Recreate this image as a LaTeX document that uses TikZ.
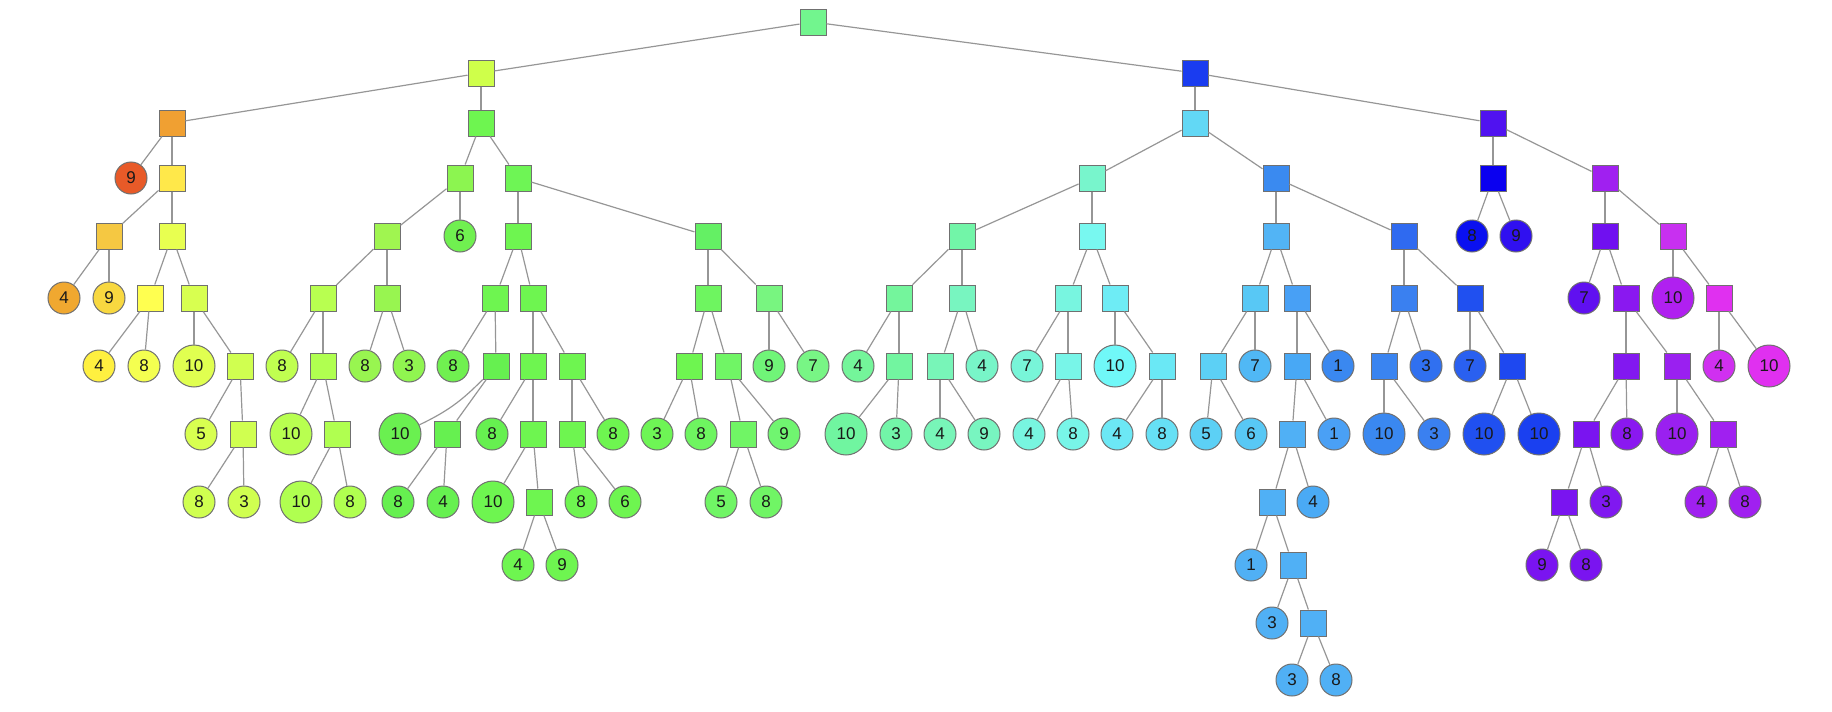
\documentclass[tikz,border=0pt]{standalone}
\usepackage{fontspec}
\setmainfont{Liberation Sans}
\tikzset{
 base/.style={draw={rgb,255:red,112;green,112;blue,112}, line width=1pt, inner sep=0pt, text={rgb,255:red,25;green,25;blue,25}, font=\fontsize{17}{20}\selectfont},
 sq/.style={base, rectangle, minimum size=26pt},
 ci/.style={base, circle, minimum size=32pt},
 cb/.style={base, circle, minimum size=42pt},
 fc/.code={\definecolor{tmpfill}{HTML}{#1}\pgfkeysalso{fill=tmpfill}},
 edge/.style={draw={rgb,255:red,150;green,150;blue,150}, line width=1.2pt}
}
\newcommand\Nd[6]{\node[#1,fc=#5] (L#2x#3) at (#3,#4) {#6};}
\newcommand\Ed[2]{\foreach \ch in {#2} {\draw[edge] (#1) -- (\ch);}}
\begin{document}
\begin{tikzpicture}[x=1pt,y=-1pt]
\useasboundingbox (0,0) rectangle (1832,712);
% level 0
\Nd{sq}{0}{813}{22}{72F58E}{}
% level 1
\Nd{sq}{1}{481}{73}{CFFF4A}{}
\Nd{sq}{1}{1195}{73}{1A3CF0}{}
% level 2
\Nd{sq}{2}{172}{123}{F0A032}{}
\Nd{sq}{2}{481}{123}{6EF550}{}
\Nd{sq}{2}{1195}{123}{62D8F5}{}
\Nd{sq}{2}{1493}{123}{5012F0}{}
% level 3
\Nd{ci}{3}{131}{178}{E85A28}{9}
\Nd{sq}{3}{172}{178}{FFE84A}{}
\Nd{sq}{3}{460}{178}{8CF550}{}
\Nd{sq}{3}{518}{178}{6EF555}{}
\Nd{sq}{3}{1092}{178}{78F5CC}{}
\Nd{sq}{3}{1276}{178}{3A8AF0}{}
\Nd{sq}{3}{1493}{178}{0A00F0}{}
\Nd{sq}{3}{1605}{178}{A020F0}{}
% level 4
\Nd{sq}{4}{109}{236}{F5C842}{}
\Nd{sq}{4}{172}{236}{E8FF50}{}
\Nd{sq}{4}{387}{236}{A0F550}{}
\Nd{ci}{4}{460}{236}{70F050}{6}
\Nd{sq}{4}{518}{236}{6EF550}{}
\Nd{sq}{4}{708}{236}{64F064}{}
\Nd{sq}{4}{962}{236}{72F5A8}{}
\Nd{sq}{4}{1092}{236}{78F8F0}{}
\Nd{sq}{4}{1276}{236}{52B4F5}{}
\Nd{sq}{4}{1404}{236}{2F6AF0}{}
\Nd{ci}{4}{1472}{236}{0A10F0}{8}
\Nd{ci}{4}{1516}{236}{3010F0}{9}
\Nd{sq}{4}{1605}{236}{7010F0}{}
\Nd{sq}{4}{1673}{236}{C830F0}{}
% level 5
\Nd{ci}{5}{64}{298}{F0A830}{4}
\Nd{ci}{5}{109}{298}{F8D840}{9}
\Nd{sq}{5}{150}{298}{FFFF50}{}
\Nd{sq}{5}{194}{298}{D8FF50}{}
\Nd{sq}{5}{323}{298}{B8FF50}{}
\Nd{sq}{5}{387}{298}{98F550}{}
\Nd{sq}{5}{495}{298}{6EF550}{}
\Nd{sq}{5}{533}{298}{6EF550}{}
\Nd{sq}{5}{708}{298}{6EF560}{}
\Nd{sq}{5}{769}{298}{78F580}{}
\Nd{sq}{5}{899}{298}{74F59C}{}
\Nd{sq}{5}{962}{298}{78F5C0}{}
\Nd{sq}{5}{1068}{298}{78F5E0}{}
\Nd{sq}{5}{1115}{298}{6EECF5}{}
\Nd{sq}{5}{1255}{298}{58C8F5}{}
\Nd{sq}{5}{1297}{298}{48A0F5}{}
\Nd{sq}{5}{1404}{298}{3A80F0}{}
\Nd{sq}{5}{1470}{298}{2050F0}{}
\Nd{ci}{5}{1584}{298}{6010F0}{7}
\Nd{sq}{5}{1626}{298}{8A18F0}{}
\Nd{cb}{5}{1673}{298}{B020F0}{10}
\Nd{sq}{5}{1719}{298}{E030F0}{}
% level 6
\Nd{ci}{6}{99}{366}{FFF040}{4}
\Nd{ci}{6}{144}{366}{F4FF50}{8}
\Nd{cb}{6}{194}{366}{E0FF50}{10}
\Nd{sq}{6}{240}{366}{D0FF50}{}
\Nd{ci}{6}{282}{366}{C0FF50}{8}
\Nd{sq}{6}{323}{366}{B0FF50}{}
\Nd{ci}{6}{365}{366}{98F550}{8}
\Nd{ci}{6}{409}{366}{90F550}{3}
\Nd{ci}{6}{453}{366}{70F050}{8}
\Nd{sq}{6}{496}{366}{66F050}{}
\Nd{sq}{6}{533}{366}{6EF550}{}
\Nd{sq}{6}{572}{366}{6EF550}{}
\Nd{sq}{6}{689}{366}{6EF550}{}
\Nd{sq}{6}{728}{366}{70F565}{}
\Nd{ci}{6}{769}{366}{70F578}{9}
\Nd{ci}{6}{813}{366}{78F585}{7}
\Nd{ci}{6}{858}{366}{74F59A}{4}
\Nd{sq}{6}{899}{366}{72F5A0}{}
\Nd{sq}{6}{940}{366}{78F5B8}{}
\Nd{ci}{6}{982}{366}{78F5C8}{4}
\Nd{ci}{6}{1027}{366}{78F5D8}{7}
\Nd{sq}{6}{1068}{366}{78F5E8}{}
\Nd{cb}{6}{1115}{366}{70F8F8}{10}
\Nd{sq}{6}{1162}{366}{6AE8F5}{}
\Nd{sq}{6}{1213}{366}{5CD0F5}{}
\Nd{ci}{6}{1255}{366}{50B8F5}{7}
\Nd{sq}{6}{1297}{366}{48A8F5}{}
\Nd{ci}{6}{1338}{366}{3A88F0}{1}
\Nd{sq}{6}{1384}{366}{3A84F0}{}
\Nd{ci}{6}{1426}{366}{3070F0}{3}
\Nd{ci}{6}{1470}{366}{2A60F0}{7}
\Nd{sq}{6}{1512}{366}{1E48F0}{}
\Nd{sq}{6}{1626}{366}{8218F0}{}
\Nd{sq}{6}{1677}{366}{9A20F0}{}
\Nd{ci}{6}{1719}{366}{D030F0}{4}
\Nd{cb}{6}{1769}{366}{E030F0}{10}
% level 7
\Nd{ci}{7}{201}{434}{D8FF50}{5}
\Nd{sq}{7}{243}{434}{D0FF50}{}
\Nd{cb}{7}{291}{434}{B8FF50}{10}
\Nd{sq}{7}{337}{434}{B0FF50}{}
\Nd{cb}{7}{400}{434}{6AF050}{10}
\Nd{sq}{7}{447}{434}{66F050}{}
\Nd{ci}{7}{492}{434}{66F050}{8}
\Nd{sq}{7}{533}{434}{6EF550}{}
\Nd{sq}{7}{572}{434}{6EF550}{}
\Nd{ci}{7}{613}{434}{6EF550}{8}
\Nd{ci}{7}{657}{434}{6EF555}{3}
\Nd{ci}{7}{701}{434}{6EF560}{8}
\Nd{sq}{7}{743}{434}{70F565}{}
\Nd{ci}{7}{784}{434}{70F570}{9}
\Nd{cb}{7}{846}{434}{70F5A0}{10}
\Nd{ci}{7}{896}{434}{72F5A8}{3}
\Nd{ci}{7}{940}{434}{78F5B8}{4}
\Nd{ci}{7}{984}{434}{78F5C0}{9}
\Nd{ci}{7}{1029}{434}{78F5E0}{4}
\Nd{ci}{7}{1073}{434}{78F5E8}{8}
\Nd{ci}{7}{1117}{434}{6CE8F5}{4}
\Nd{ci}{7}{1162}{434}{66E0F5}{8}
\Nd{ci}{7}{1206}{434}{5CD0F5}{5}
\Nd{ci}{7}{1251}{434}{58C8F5}{6}
\Nd{sq}{7}{1292}{434}{50B0F5}{}
\Nd{ci}{7}{1334}{434}{4AA0F5}{1}
\Nd{cb}{7}{1384}{434}{3A88F0}{10}
\Nd{ci}{7}{1434}{434}{3A80F0}{3}
\Nd{cb}{7}{1484}{434}{2050F0}{10}
\Nd{cb}{7}{1539}{434}{1A40F0}{10}
\Nd{sq}{7}{1586}{434}{7A14F0}{}
\Nd{ci}{7}{1627}{434}{8A18F0}{8}
\Nd{cb}{7}{1677}{434}{9A20F0}{10}
\Nd{sq}{7}{1723}{434}{A020F0}{}
% level 8
\Nd{ci}{8}{199}{502}{D0FF50}{8}
\Nd{ci}{8}{244}{502}{D0FF50}{3}
\Nd{cb}{8}{301}{502}{B0FF50}{10}
\Nd{ci}{8}{350}{502}{B0FF50}{8}
\Nd{ci}{8}{398}{502}{66F050}{8}
\Nd{ci}{8}{443}{502}{66F050}{4}
\Nd{cb}{8}{493}{502}{6EF550}{10}
\Nd{sq}{8}{539}{502}{6EF550}{}
\Nd{ci}{8}{581}{502}{6EF550}{8}
\Nd{ci}{8}{625}{502}{6EF550}{6}
\Nd{ci}{8}{721}{502}{70F565}{5}
\Nd{ci}{8}{766}{502}{70F565}{8}
\Nd{sq}{8}{1272}{502}{50B0F5}{}
\Nd{ci}{8}{1313}{502}{4AAAF5}{4}
\Nd{sq}{8}{1564}{502}{7A14F0}{}
\Nd{ci}{8}{1606}{502}{8018F0}{3}
\Nd{ci}{8}{1701}{502}{A020F0}{4}
\Nd{ci}{8}{1745}{502}{A020F0}{8}
% level 9
\Nd{ci}{9}{518}{565}{6EF550}{4}
\Nd{ci}{9}{562}{565}{6EF550}{9}
\Nd{ci}{9}{1251}{565}{50B0F5}{1}
\Nd{sq}{9}{1293}{565}{50B0F5}{}
\Nd{ci}{9}{1542}{565}{7A14F0}{9}
\Nd{ci}{9}{1586}{565}{7A14F0}{8}
% level 10
\Nd{ci}{10}{1272}{623}{50B0F5}{3}
\Nd{sq}{10}{1313}{623}{50B0F5}{}
% level 11
\Nd{ci}{11}{1292}{680}{50B0F5}{3}
\Nd{ci}{11}{1336}{680}{50B0F5}{8}
% edges
\Ed{L0x813}{L1x481,L1x1195}
\Ed{L1x481}{L2x172,L2x481}
\Ed{L1x1195}{L2x1195,L2x1493}
\Ed{L2x172}{L3x131,L3x172}
\Ed{L2x481}{L3x460,L3x518}
\Ed{L2x1195}{L3x1092,L3x1276}
\Ed{L2x1493}{L3x1493,L3x1605}
\Ed{L3x172}{L4x109,L4x172}
\Ed{L3x460}{L4x387,L4x460}
\Ed{L3x518}{L4x518,L4x708}
\Ed{L3x1092}{L4x962,L4x1092}
\Ed{L3x1276}{L4x1276,L4x1404}
\Ed{L3x1493}{L4x1472,L4x1516}
\Ed{L3x1605}{L4x1605,L4x1673}
\Ed{L4x109}{L5x64,L5x109}
\Ed{L4x172}{L5x150,L5x194}
\Ed{L4x387}{L5x323,L5x387}
\Ed{L4x518}{L5x495,L5x533}
\Ed{L4x708}{L5x708,L5x769}
\Ed{L4x962}{L5x899,L5x962}
\Ed{L4x1092}{L5x1068,L5x1115}
\Ed{L4x1276}{L5x1255,L5x1297}
\Ed{L4x1404}{L5x1404,L5x1470}
\Ed{L4x1605}{L5x1584,L5x1626}
\Ed{L4x1673}{L5x1673,L5x1719}
\Ed{L5x150}{L6x99,L6x144}
\Ed{L5x194}{L6x194,L6x240}
\Ed{L5x323}{L6x282,L6x323}
\Ed{L5x387}{L6x365,L6x409}
\Ed{L5x495}{L6x453,L6x496}
\Ed{L5x533}{L6x533,L6x572}
\Ed{L5x708}{L6x689,L6x728}
\Ed{L5x769}{L6x769,L6x813}
\Ed{L5x899}{L6x858,L6x899}
\Ed{L5x962}{L6x940,L6x982}
\Ed{L5x1068}{L6x1027,L6x1068}
\Ed{L5x1115}{L6x1115,L6x1162}
\Ed{L5x1255}{L6x1213,L6x1255}
\Ed{L5x1297}{L6x1297,L6x1338}
\Ed{L5x1404}{L6x1384,L6x1426}
\Ed{L5x1470}{L6x1470,L6x1512}
\Ed{L5x1626}{L6x1626,L6x1677}
\Ed{L5x1719}{L6x1719,L6x1769}
\Ed{L6x240}{L7x201,L7x243}
\Ed{L6x323}{L7x291,L7x337}
\draw[edge] (L6x496) to[bend left=10] (L7x400);
\Ed{L6x496}{L7x447}
\Ed{L6x533}{L7x492,L7x533}
\Ed{L6x572}{L7x572,L7x613}
\Ed{L6x689}{L7x657,L7x701}
\Ed{L6x728}{L7x743,L7x784}
\Ed{L6x899}{L7x846,L7x896}
\Ed{L6x940}{L7x940,L7x984}
\Ed{L6x1068}{L7x1029,L7x1073}
\Ed{L6x1162}{L7x1117,L7x1162}
\Ed{L6x1213}{L7x1206,L7x1251}
\Ed{L6x1297}{L7x1292,L7x1334}
\Ed{L6x1384}{L7x1384,L7x1434}
\Ed{L6x1512}{L7x1484,L7x1539}
\Ed{L6x1626}{L7x1586,L7x1627}
\Ed{L6x1677}{L7x1677,L7x1723}
\Ed{L7x243}{L8x199,L8x244}
\Ed{L7x337}{L8x301,L8x350}
\Ed{L7x447}{L8x398,L8x443}
\Ed{L7x533}{L8x493,L8x539}
\Ed{L7x572}{L8x581,L8x625}
\Ed{L7x743}{L8x721,L8x766}
\Ed{L7x1292}{L8x1272,L8x1313}
\Ed{L7x1586}{L8x1564,L8x1606}
\Ed{L7x1723}{L8x1701,L8x1745}
\Ed{L8x539}{L9x518,L9x562}
\Ed{L8x1272}{L9x1251,L9x1293}
\Ed{L8x1564}{L9x1542,L9x1586}
\Ed{L9x1293}{L10x1272,L10x1313}
\Ed{L10x1313}{L11x1292,L11x1336}
\end{tikzpicture}
\end{document}
